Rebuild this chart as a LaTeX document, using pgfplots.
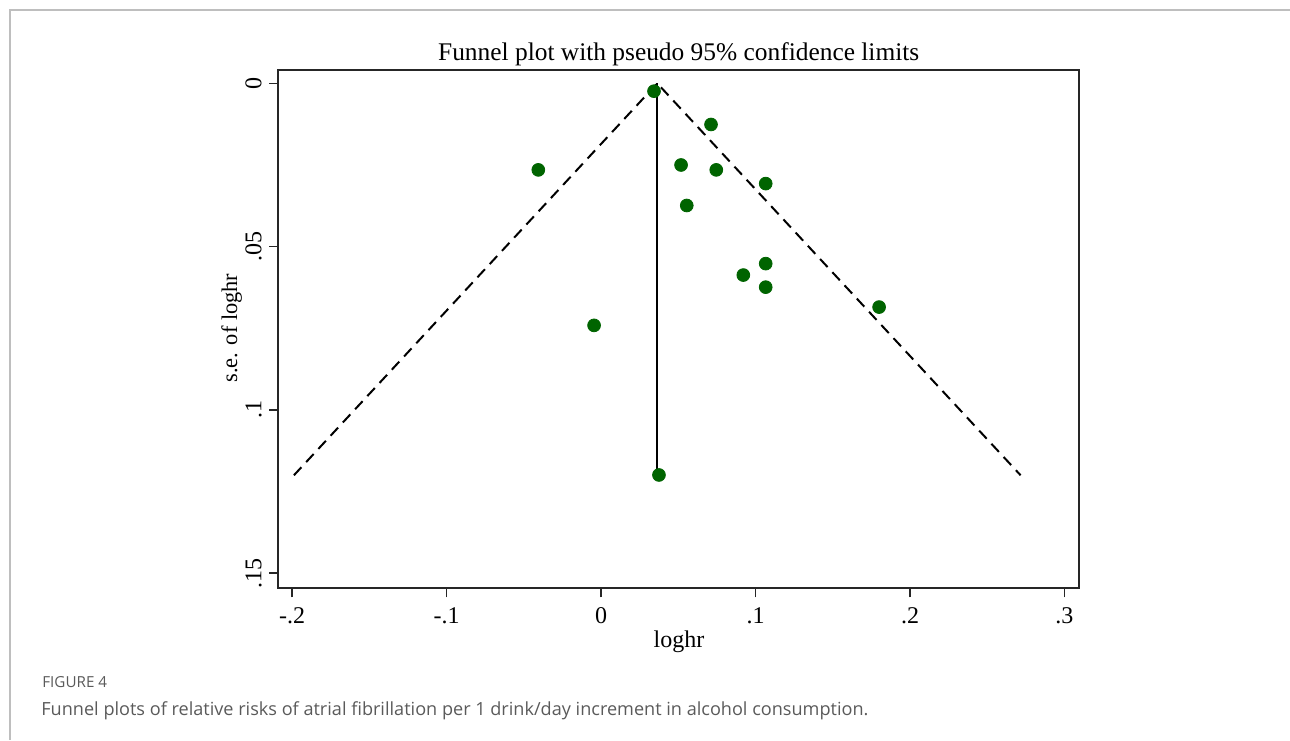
\documentclass[border=0pt]{standalone}
\usepackage{pgfplots}
\pgfplotsset{compat=1.18}
\usepackage{fontspec}
\setmainfont{Liberation Serif}
\newfontfamily\capfont{Open Sans}
\definecolor{dotgreen}{RGB}{0,100,0}
\definecolor{framegray}{RGB}{190,190,190}
\definecolor{capgray}{RGB}{90,90,90}
\begin{document}
\begin{tikzpicture}[x=0.5pt,y=0.5pt]
\path[use as bounding box] (0,0) rectangle (1290,740);
% page frame
\draw[framegray, line width=1pt] (10,0) -- (10,730) -- (1290,730);
\begin{axis}[
  at={(139.15pt,75.85pt)}, anchor=south west,
  scale only axis, width=400.35pt, height=259.15pt,
  xmin=-0.2089, xmax=0.3094, ymin=-0.00408, ymax=0.1546, y dir=reverse,
  xtick={-0.2,-0.1,0,0.1,0.2,0.3}, xticklabels={-.2,-.1,0,.1,.2,.3},
  ytick={0,0.05,0.1,0.15}, yticklabels={0,.05,.1,.15},
  xtick pos=bottom, ytick pos=left,
  tick align=outside, major tick length=4.5pt,
  axis line style={black!85, line width=0.9pt},
  every tick/.style={black!85, line width=0.8pt},
  tick label style={font=\fontsize{12}{14}\selectfont},
  xticklabel style={anchor=base, yshift=-13pt},
  yticklabel style={xshift=-4pt, rotate=90, anchor=base},
  clip=false
]
% pseudo 95% limits
\addplot[black, line width=1pt, dash pattern=on 5.5pt off 3.5pt] coordinates {
  (-0.1988,0.12) (0.0364,0) (0.2716,0.12)
};
% pooled estimate
\addplot[black, line width=0.9pt] coordinates {(0.0364,0) (0.0364,0.12)};
% studies
\addplot[only marks, mark=*, mark size=3.2pt, mark options={fill=dotgreen, draw=dotgreen}] coordinates {
  (0.0343,0.0024)
  (0.0712,0.0126)
  (-0.0406,0.0265)
  (0.0518,0.0250)
  (0.0746,0.0265)
  (0.1066,0.0307)
  (0.0555,0.0374)
  (0.1066,0.0552)
  (0.0921,0.0587)
  (0.1066,0.0624)
  (0.1800,0.0685)
  (-0.0045,0.0741)
  (0.0375,0.1199)
};
\end{axis}
\node[anchor=base, font=\fontsize{12.7}{15}\selectfont] at (678.7,679.3) {Funnel plot with pseudo 95\% confidence limits};
\node[anchor=base, font=\fontsize{12}{14}\selectfont] at (679,93) {loghr};
\node[anchor=base, rotate=90, font=\fontsize{11.2}{14}\selectfont] at (237,412) {s.e. of loghr};
\node[anchor=base west, inner sep=0pt, font=\capfont\fontsize{7.6}{9}\selectfont, text=capgray] at (42,53) {FIGURE 4};
\node[anchor=base west, inner sep=0pt, font=\capfont\fontsize{9.05}{11}\selectfont, text=capgray] at (41,25) {Funnel plots of relative risks of atrial fibrillation per 1 drink/day increment in alcohol consumption.};
\end{tikzpicture}
\end{document}
